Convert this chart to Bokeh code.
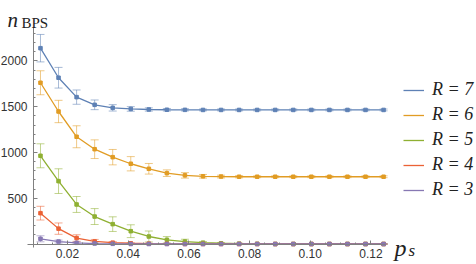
from bokeh.plotting import figure
from bokeh.models import (ColumnDataSource, Whisker, TeeHead, Legend, LegendItem,
                          FixedTicker, Label, Range1d)
from bokeh.embed import file_html
from bokeh.resources import INLINE

ps = [0.0111, 0.01705, 0.023, 0.02895, 0.0349, 0.04085, 0.0468, 0.05275, 0.0587, 0.06465,
      0.0706, 0.07655, 0.0825, 0.08845, 0.0944, 0.10035, 0.1063, 0.11225, 0.1182, 0.12415]

r7 = [2140, 1817, 1605, 1521, 1488, 1476, 1470, 1467, 1466, 1465,
      1465, 1465, 1465, 1465, 1465, 1465, 1465, 1465, 1465, 1465]
e7 = [150, 113, 78, 53, 35, 25, 18, 14, 12, 10, 10, 10, 10, 10, 10, 10, 10, 10, 10, 10]
r6 = [1762, 1448, 1172, 1036, 949, 877, 822, 774, 750, 740,
      737, 735, 735, 735, 735, 735, 735, 735, 735, 735]
e6 = [131, 122, 120, 102, 84, 78, 58, 36, 30, 20, 15, 12, 10, 10, 10, 10, 10, 10, 10, 10]
r5 = [964, 687, 432, 300, 217, 140, 82, 46, 27, 15, 8, 4, 2, 0, 0, 0, 0, 0, 0, 0]
e5 = [131, 135, 87, 87, 80, 70, 60, 35, 25, 12, 8, 5, 3, 2, 2, 2, 2, 2, 2, 2]
r4 = [337, 168, 65, 28, 15, 8, 4, 2, 0, 0, 0, 0, 0, 0, 0, 0, 0, 0, 0, 0]
e4 = [75, 62, 36, 22, 12, 6, 3, 2, 2, 2, 2, 2, 2, 2, 2, 2, 2, 2, 2, 2]
r3 = [57, 27, 13, 5, 2, 0, 0, 0, 0, 0, 0, 0, 0, 0, 0, 0, 0, 0, 0, 0]
e3 = [33, 16, 10, 5, 3, 2, 2, 2, 2, 2, 2, 2, 2, 2, 2, 2, 2, 2, 2, 2]

labels = ["R = 7", "R = 6", "R = 5", "R = 4", "R = 3"]
colors = ["#5E81B5", "#E19C24", "#8FB032", "#EB6235", "#8778B3"]
series = [r7, r6, r5, r4, r3]
errors = [e7, e6, e5, e4, e3]

x_major = [0.02, 0.04, 0.06, 0.08, 0.10, 0.12]
y_major = [500, 1000, 1500, 2000]
x_minor = [0.01, 0.015, 0.025, 0.03, 0.035, 0.045, 0.05, 0.055, 0.065, 0.07, 0.075,
           0.085, 0.09, 0.095, 0.105, 0.11, 0.115]
y_minor = [100, 200, 300, 400, 600, 700, 800, 900, 1100, 1200, 1300, 1400,
           1600, 1700, 1800, 1900, 2100, 2200, 2300]

# frame fills the whole canvas; axes are pinned at data locations
p = figure(width=476, height=264, output_backend="svg", toolbar_location=None,
           x_range=Range1d(-0.002073, 0.154765), y_range=Range1d(-224, 2661),
           min_border_left=0, min_border_right=0, min_border_top=0, min_border_bottom=0,
           background_fill_color="white", border_fill_color="white")
p.outline_line_color = None
p.grid.visible = False

p.xaxis.fixed_location = 0
p.yaxis.fixed_location = 0.0088
p.xaxis.bounds = (0.0068, 0.1248)
p.yaxis.bounds = (-40, 2370)
p.xaxis.ticker = FixedTicker(ticks=x_major, minor_ticks=x_minor)
p.yaxis.ticker = FixedTicker(ticks=y_major, minor_ticks=y_minor)
p.xaxis.major_label_overrides = {v: "%.2f" % v for v in x_major}
for ax in (p.xaxis, p.yaxis):
    ax.axis_line_color = "#808080"
    ax.axis_line_width = 1
    ax.major_tick_line_color = "#808080"
    ax.minor_tick_line_color = "#808080"
    ax.major_tick_in = 4
    ax.major_tick_out = 0
    ax.minor_tick_in = 2
    ax.minor_tick_out = 0
    ax.major_label_text_font = "Liberation Sans"
    ax.major_label_text_font_size = "12px"
    ax.major_label_text_color = "#333333"
p.xaxis.major_label_standoff = 5
p.yaxis.major_label_standoff = 6

items = []
for lab, c, ys, es in zip(labels, colors, series, errors):
    src = ColumnDataSource(dict(x=ps, y=ys,
                                upper=[a + b for a, b in zip(ys, es)],
                                lower=[a - b for a, b in zip(ys, es)]))
    w = Whisker(source=src, base="x", upper="upper", lower="lower",
                line_color=c, line_alpha=0.55, line_width=1,
                upper_head=TeeHead(size=8, line_color=c, line_alpha=0.55, line_width=1),
                lower_head=TeeHead(size=8, line_color=c, line_alpha=0.55, line_width=1))
    p.add_layout(w)
    ln = p.line("x", "y", source=src, line_color=c, line_width=1.3)
    p.scatter("x", "y", source=src, marker="square", size=3.5, fill_color=c, line_color=c)
    items.append(LegendItem(label=lab, renderers=[ln]))

leg = Legend(items=items, location=(403, 64), padding=0, spacing=4, margin=0,
             glyph_width=21, glyph_height=20, label_height=20, label_standoff=8,
             label_text_font="Liberation Serif", label_text_font_style="italic",
             label_text_font_size="18px", label_text_color="#222222",
             border_line_color=None, background_fill_alpha=0)
p.add_layout(leg, "center")

lab_kw = dict(x_units="screen", y_units="screen", text_baseline="alphabetic",
              text_font="Liberation Serif", text_color="#222222")
p.add_layout(Label(x=7, y=245, text="n", text_font_style="italic",
                   text_font_size="21px", **lab_kw))
p.add_layout(Label(x=21, y=242, text="BPS", text_font_size="15px", **lab_kw))
p.add_layout(Label(x=394, y=17, text="p", text_font_style="italic",
                   text_font_size="24px", **lab_kw))
p.add_layout(Label(x=408, y=14, text="s", text_font_style="italic",
                   text_font_size="17px", **lab_kw))

open("out.html", "w").write(file_html(p, INLINE))
